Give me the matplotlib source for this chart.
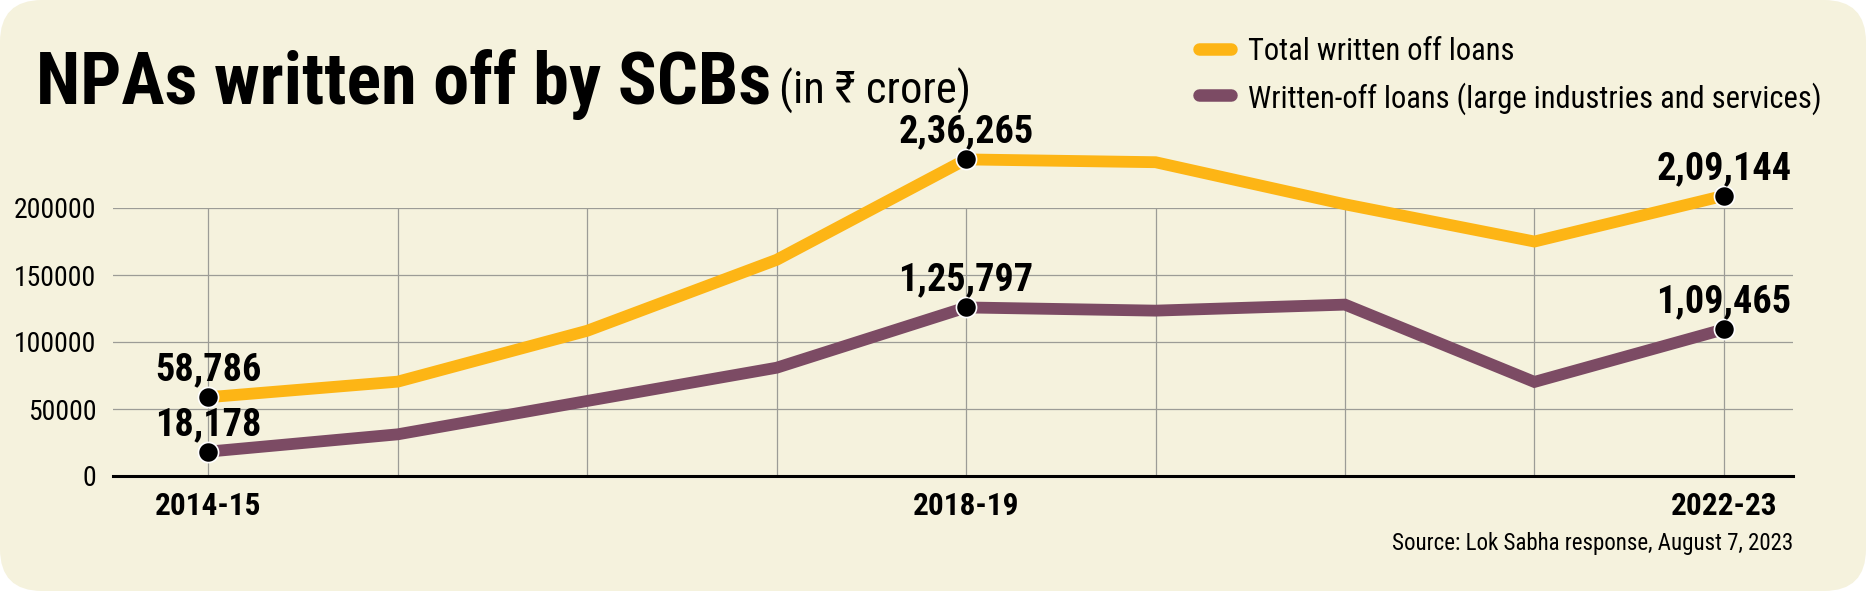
import matplotlib
matplotlib.use("Agg")
import matplotlib.pyplot as plt
from matplotlib.patches import FancyBboxPatch
from matplotlib.lines import Line2D
from matplotlib import font_manager as fm

# ---------------- data ----------------
years = ["2014-15", "2015-16", "2016-17", "2017-18", "2018-19",
         "2019-20", "2020-21", "2021-22", "2022-23"]
xtick_labels = ["2014-15", "", "", "", "2018-19", "", "", "", "2022-23"]
total_written_off = [58786, 70413, 108373, 161328, 236265, 234170, 202781, 174966, 209144]
large_ind_services = [18178, 31100, 56000, 80800, 125797, 123400, 127900, 70200, 109465]
label_idx = [0, 4, 8]
total_labels = ["58,786", "2,36,265", "2,09,144"]
large_labels = ["18,178", "1,25,797", "1,09,465"]
yticks = [0, 50000, 100000, 150000, 200000]

# ---------------- style ----------------
BG = "#F5F2DD"
YEL = "#FDB515"
PUR = "#7C4B64"
GRID = "#9C9C96"
names = {f.name for f in fm.fontManager.ttflist}
NARROW = [n for n in ["Roboto Condensed", "Liberation Sans Narrow", "Roboto"] if n in names] + ["DejaVu Sans"]

W, H = 1866, 591
DPI = 100
fig = plt.figure(figsize=(W / DPI, H / DPI), dpi=DPI)
fig.patch.set_facecolor("white")

bg = FancyBboxPatch((0, 0), W / DPI, H / DPI,
                    boxstyle="round,pad=0,rounding_size=0.42",
                    transform=fig.dpi_scale_trans, facecolor=BG,
                    edgecolor="none", zorder=-10)
fig.patches.append(bg)

ax = fig.add_axes([113 / W, 115 / H, (1793 - 113) / W, (476 - 208) / H])
ax.set_facecolor("none")
ax.set_zorder(1)
x = list(range(len(years)))
ax.set_xlim(-0.503, 8.365)
ax.set_ylim(0, 200000)

ax.plot(x, total_written_off, color=YEL, lw=8.5, solid_joinstyle="miter",
        solid_capstyle="butt", clip_on=False, zorder=3)
ax.plot(x, large_ind_services, color=PUR, lw=8.5, solid_joinstyle="miter",
        solid_capstyle="butt", clip_on=False, zorder=3)
for series, labels in ((total_written_off, total_labels),
                       (large_ind_services, large_labels)):
    xs = [x[i] for i in label_idx]
    ys = [series[i] for i in label_idx]
    ax.plot(xs, ys, ls="none", marker="o", ms=14.5, mfc="black",
            mec="white", mew=1.2, clip_on=False, zorder=5)
    for xi, yi, lab in zip(xs, ys, labels):
        ax.annotate(lab, (xi, yi), xytext=(0, 12), textcoords="offset points",
                    ha="center", va="baseline", fontsize=27.5,
                    fontweight="bold", family=NARROW, zorder=6,
                    annotation_clip=False)

ax.set_xticks(x)
ax.set_xticklabels(xtick_labels, fontsize=22.5, fontweight="bold", family=NARROW)
ax.set_yticks(yticks)
ax.set_yticklabels([str(v) for v in yticks], fontsize=20, family=NARROW)
ax.tick_params(axis="both", length=0)
ax.tick_params(axis="x", pad=11)
ax.tick_params(axis="y", pad=12)

ax.grid(True, color=GRID, lw=0.9, zorder=1)
ax.set_axisbelow(True)
for s in ("top", "right", "left"):
    ax.spines[s].set_visible(False)
ax.spines["bottom"].set_linewidth(2.2)
ax.spines["bottom"].set_color("black")
ax.spines["bottom"].set_zorder(2)

# ---------------- title ----------------
title = fig.text(36 / W, 1 - 104 / H, "NPAs written off by SCBs", fontsize=52,
                 fontweight="bold", family=NARROW, ha="left", va="baseline")
fig.canvas.draw()
r = fig.canvas.get_renderer()
bb = title.get_window_extent(r)
fig.text((bb.x1 + 8) / W, 1 - 104 / H, "(in \u20b9 crore)", fontsize=32,
         family=NARROW, ha="left", va="baseline")

# ---------------- legend ----------------
for yy, col, lab in ((49, YEL, "Total written off loans"),
                     (95, PUR, "Written-off loans (large industries and services)")):
    fig.add_artist(Line2D([1199 / W, 1231 / W], [1 - yy / H, 1 - yy / H],
                          transform=fig.transFigure, color=col, lw=9,
                          solid_capstyle="round"))
    fig.text(1248 / W, 1 - yy / H, lab, fontsize=22, family=NARROW,
             ha="left", va="center_baseline")

# ---------------- source ----------------
fig.text(1793 / W, 1 - 550 / H, "Source: Lok Sabha response, August 7, 2023",
         fontsize=16.5, family=NARROW, ha="right", va="baseline")

fig.savefig("out.png", dpi=DPI, facecolor="white")
